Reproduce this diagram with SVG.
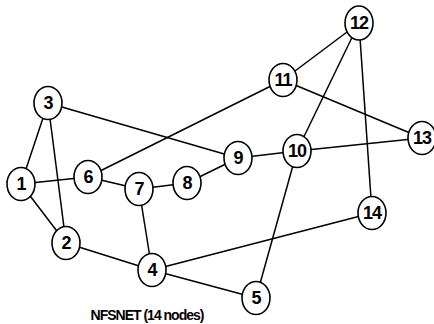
<svg xmlns="http://www.w3.org/2000/svg" width="434" height="324" viewBox="0 0 434 324">
  <style>
    .edge { stroke: #000; stroke-width: 1.5; fill: none; }
    .node ellipse { fill: #fff; stroke: #000; stroke-width: 1.6; }
    .node text { font-family: "Liberation Sans", Arial, sans-serif; font-weight: bold; font-size: 18px; text-anchor: middle; fill: #000; letter-spacing: -1px; }
    .title { font-family: "Liberation Sans", Arial, sans-serif; font-weight: bold; font-size: 14px; letter-spacing: -1px; text-anchor: middle; fill: #000; }
  </style>
  <rect width="434" height="324" fill="#fff"/>
  <g id="connectors">
    <line class="edge" x1="21" y1="184" x2="48" y2="103"/>
    <line class="edge" x1="21" y1="184" x2="88" y2="177"/>
    <line class="edge" x1="21" y1="184" x2="66" y2="243"/>
    <line class="edge" x1="48" y1="103" x2="66" y2="243"/>
    <line class="edge" x1="48" y1="103" x2="238" y2="158"/>
    <line class="edge" x1="88" y1="177" x2="283" y2="80"/>
    <line class="edge" x1="88" y1="177" x2="139" y2="189"/>
    <line class="edge" x1="139" y1="189" x2="187" y2="183"/>
    <line class="edge" x1="187" y1="183" x2="238" y2="158"/>
    <line class="edge" x1="139" y1="189" x2="152" y2="270"/>
    <line class="edge" x1="66" y1="243" x2="152" y2="270"/>
    <line class="edge" x1="152" y1="270" x2="372" y2="213"/>
    <line class="edge" x1="152" y1="270" x2="256" y2="298"/>
    <line class="edge" x1="256" y1="298" x2="297" y2="151"/>
    <line class="edge" x1="238" y1="158" x2="297" y2="151"/>
    <line class="edge" x1="297" y1="151" x2="422" y2="138"/>
    <line class="edge" x1="297" y1="151" x2="359" y2="23"/>
    <line class="edge" x1="283" y1="80" x2="359" y2="23"/>
    <line class="edge" x1="283" y1="80" x2="422" y2="138"/>
    <line class="edge" x1="359" y1="23" x2="372" y2="213"/>
  </g>
  <g id="n1" class="node"><ellipse cx="21" cy="184" rx="14" ry="16.5"/><text x="21" y="190">1</text></g>
  <g id="n2" class="node"><ellipse cx="66" cy="243" rx="14" ry="16.5"/><text x="66" y="249">2</text></g>
  <g id="n3" class="node"><ellipse cx="48" cy="103" rx="14" ry="16.5"/><text x="48" y="109">3</text></g>
  <g id="n4" class="node"><ellipse cx="152" cy="270" rx="14" ry="16.5"/><text x="152" y="276">4</text></g>
  <g id="n5" class="node"><ellipse cx="256" cy="298" rx="14" ry="16.5"/><text x="256" y="304">5</text></g>
  <g id="n6" class="node"><ellipse cx="88" cy="177" rx="14" ry="16.5"/><text x="88" y="183">6</text></g>
  <g id="n7" class="node"><ellipse cx="139" cy="189" rx="14" ry="16.5"/><text x="139" y="195">7</text></g>
  <g id="n8" class="node"><ellipse cx="187" cy="183" rx="14" ry="16.5"/><text x="187" y="189">8</text></g>
  <g id="n9" class="node"><ellipse cx="238" cy="158" rx="14" ry="16.5"/><text x="238" y="164">9</text></g>
  <g id="n10" class="node"><ellipse cx="297" cy="151" rx="14" ry="16.5"/><text x="297" y="157">10</text></g>
  <g id="n11" class="node"><ellipse cx="283" cy="80" rx="14" ry="16.5"/><text x="283" y="86">11</text></g>
  <g id="n12" class="node"><ellipse cx="359" cy="23" rx="14" ry="17"/><text x="359" y="29">12</text></g>
  <g id="n13" class="node"><ellipse cx="422" cy="138" rx="14" ry="16.5"/><text x="422" y="144">13</text></g>
  <g id="n14" class="node"><ellipse cx="372" cy="213" rx="14" ry="16.5"/><text x="372" y="219">14</text></g>
  <text class="title" x="147" y="320">NFSNET (14 nodes)</text>
</svg>
